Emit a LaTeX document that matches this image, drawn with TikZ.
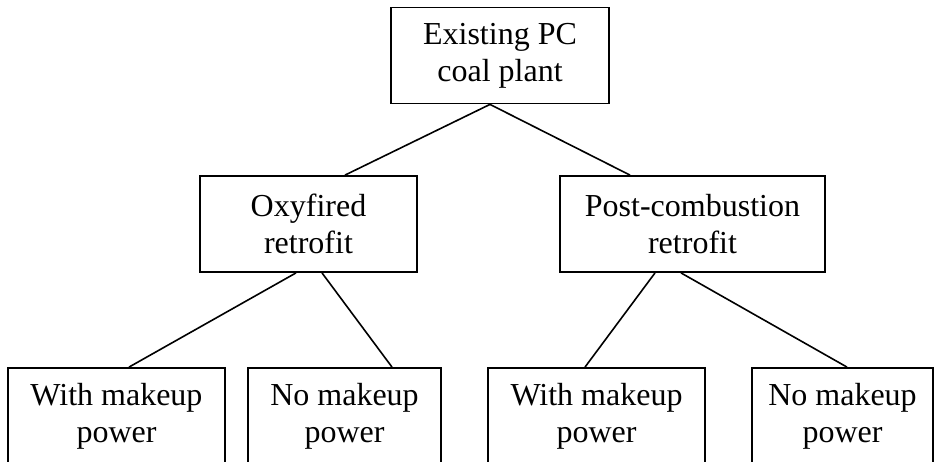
\documentclass[tikz,border=0pt]{standalone}
\usepackage{fontspec}
\setmainfont{Liberation Serif}
\usetikzlibrary{positioning}
\tikzset{
    box/.style={draw, line width=1.8pt, align=center, inner sep=0pt, minimum height=96pt,
        font=\fontsize{32}{37}\selectfont},
    link/.style={line width=1.6pt}
}

\begin{document}
\begin{tikzpicture}[x=1pt, y=-1pt]
    \useasboundingbox (0,0) rectangle (934,461);

    % top level
    \node[box, minimum width=218pt] (plant) at (500,55.5) {Existing PC\\coal plant};

    % retrofit options
    \node[box, minimum width=217pt] (oxy) at (308.5,224) {Oxyfired\\retrofit};
    \node[box, minimum width=265pt] (post) at (692.5,224) {Post-combustion\\retrofit};

    % makeup power cases
    \node[box, minimum width=217pt] (oxywith) at (116.5,416) {With makeup\\power};
    \node[box, minimum width=193pt] (oxyno) at (344.5,416) {No makeup\\power};
    \node[box, minimum width=217pt] (postwith) at (596.5,416) {With makeup\\power};
    \node[box, minimum width=181pt] (postno) at (842.5,416) {No makeup\\power};

    \draw[link] ([xshift=-10pt]plant.south) -- ([xshift=36.5pt]oxy.north);
    \draw[link] ([xshift=-10pt]plant.south) -- ([xshift=-62.5pt]post.north);

    \draw[link] ([xshift=-12.5pt]oxy.south) -- ([xshift=12.5pt]oxywith.north);
    \draw[link] ([xshift=13.5pt]oxy.south) -- ([xshift=47.5pt]oxyno.north);
    \draw[link] ([xshift=-37.5pt]post.south) -- ([xshift=-11.5pt]postwith.north);
    \draw[link] ([xshift=-11.5pt]post.south) -- ([xshift=4.5pt]postno.north);

\end{tikzpicture}
\end{document}
